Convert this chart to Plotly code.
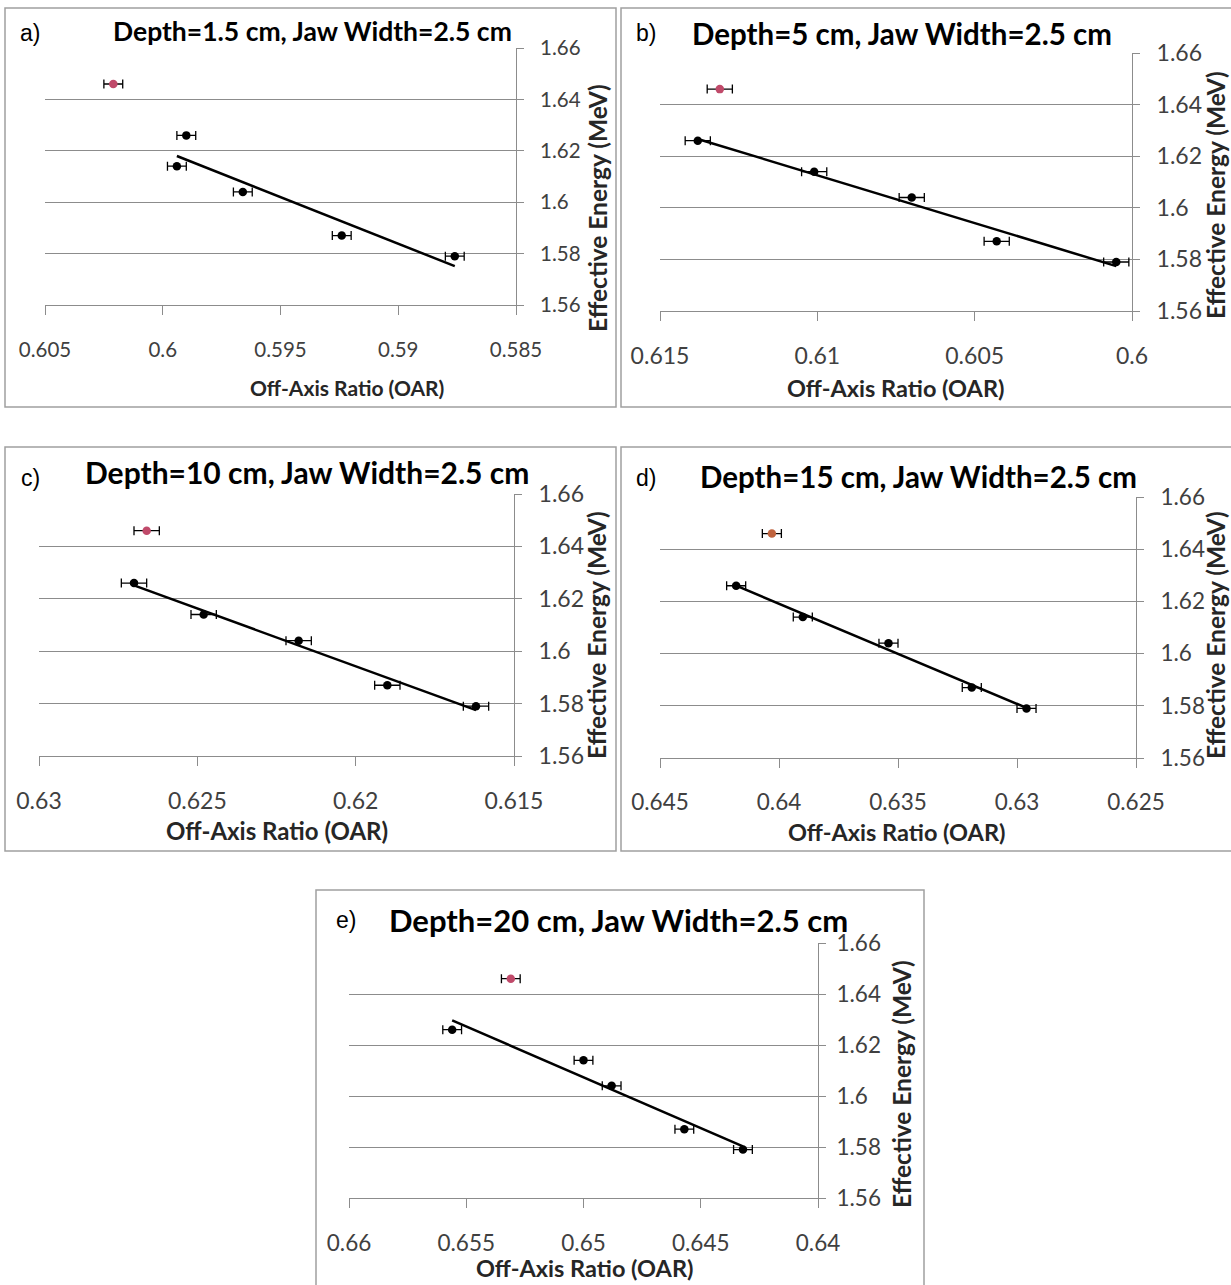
import numpy as np
import plotly.graph_objects as go

W, H = 1231, 1285

# Effective energy (MeV) of the six measurements; the first one is the outlier
ENERGY = [1.646, 1.626, 1.614, 1.604, 1.587, 1.579]
OAR_ERR = 0.0004

# Off-axis ratio of the six measurements at each depth
OAR_A = [0.6021, 0.5990, 0.5994, 0.5966, 0.5924, 0.5876]
OAR_B = [0.6131, 0.6138, 0.6101, 0.6070, 0.6043, 0.6005]
OAR_C = [0.6266, 0.6270, 0.6248, 0.6218, 0.6190, 0.6162]
OAR_D = [0.6403, 0.6418, 0.6390, 0.6354, 0.6319, 0.6296]
OAR_E = [0.6531, 0.6556, 0.6500, 0.6488, 0.6457, 0.6432]

XTICKS_A = [0.605, 0.6, 0.595, 0.59, 0.585]
XTICKS_B = [0.615, 0.61, 0.605, 0.6]
XTICKS_C = [0.63, 0.625, 0.62, 0.615]
XTICKS_D = [0.645, 0.64, 0.635, 0.63, 0.625]
XTICKS_E = [0.66, 0.655, 0.65, 0.645, 0.64]
YTICKS = [1.56, 1.58, 1.6, 1.62, 1.64, 1.66]

LETTERS = ["a)", "b)", "c)", "d)", "e)"]
TITLES = [
    "Depth=1.5 cm, Jaw Width=2.5 cm",
    "Depth=5 cm, Jaw Width=2.5 cm",
    "Depth=10 cm, Jaw Width=2.5 cm",
    "Depth=15 cm, Jaw Width=2.5 cm",
    "Depth=20 cm, Jaw Width=2.5 cm",
]
X_TITLE = "Off-Axis Ratio (OAR)"
Y_TITLE = "Effective Energy (MeV)"
OUTLIER_COLORS = ["#c04a6a", "#c04a6a", "#c04a6a", "#c0643f", "#c04a6a"]

OARS = [OAR_A, OAR_B, OAR_C, OAR_D, OAR_E]
XTICKS = [XTICKS_A, XTICKS_B, XTICKS_C, XTICKS_D, XTICKS_E]

# Layout in pixels -------------------------------------------------------
# plot area: left, right, top, bottom
PLOT = [(45, 516, 48, 305), (660, 1132, 53, 311), (39, 514, 494, 756),
        (660, 1136, 497, 758), (349, 818, 943, 1198)]
# panel frame: left, right, top, bottom
FRAME = [(5, 616, 8, 407), (621, 1236, 8, 407), (5, 616, 447, 851),
         (621, 1236, 447, 851), (316, 924, 890, 1295)]
LETTER_POS = [(30, 33), (646, 33), (30, 478), (646, 478), (346, 920)]
TITLE_POS = [(312, 31), (902, 33), (307, 472), (918, 476), (618, 920)]
XTITLE_POS = [(347, 387), (895, 388), (277, 830), (896, 832), (584, 1268)]
YTITLE_POS = [(598, 208), (1215, 195), (596, 635), (1215, 635), (901, 1084)]

# font sizes and label offsets per panel
TITLE_SIZE = [26.5, 29.5, 30, 29.5, 31]
XTITLE_SIZE = [21, 23.5, 24, 23.5, 23.5]
TICK_SIZE = [20.5, 23, 23, 22.5, 22.5]
YTITLE_SIZE = 24.5
XLABEL_STANDOFF = [17, 15, 15, 15, 16]
YLABEL_STANDOFF = [12, 12, 12, 12, 6]


def px(x):
    return x / W


def py(y):
    return 1 - y / H


fig = go.Figure()
annotations = []
shapes = []
layout = {}

for i in range(5):
    n = "" if i == 0 else str(i + 1)
    xa, ya = "x" + n, "y" + n
    oar = OARS[i]
    ticks = XTICKS[i]
    left, right, top, bottom = PLOT[i]

    # outlier point
    fig.add_trace(go.Scatter(
        x=[oar[0]], y=[ENERGY[0]], mode="markers", xaxis=xa, yaxis=ya,
        marker=dict(size=8.5, color=OUTLIER_COLORS[i]),
        error_x=dict(type="constant", value=OAR_ERR, color="black",
                     thickness=1.3, width=4.5),
        showlegend=False, hoverinfo="x+y"))
    # measurement points
    fig.add_trace(go.Scatter(
        x=oar[1:], y=ENERGY[1:], mode="markers", xaxis=xa, yaxis=ya,
        marker=dict(size=8.5, color="black"),
        error_x=dict(type="constant", value=OAR_ERR, color="black",
                     thickness=1.3, width=4.5),
        showlegend=False, hoverinfo="x+y"))
    # linear trendline through the measurement points
    slope, icpt = np.polyfit(oar[1:], ENERGY[1:], 1)
    xs = np.array([max(oar[1:]), min(oar[1:])])
    fig.add_trace(go.Scatter(
        x=xs, y=slope * xs + icpt, mode="lines", xaxis=xa, yaxis=ya,
        line=dict(color="black", width=2.5),
        showlegend=False, hoverinfo="skip"))

    tickfont = dict(family="Lato", size=TICK_SIZE[i], color="#404040")
    layout["xaxis" + n] = dict(
        domain=[px(left), px(right)], anchor=ya, automargin=False,
        range=[ticks[0], ticks[0] - 0.005 * (len(ticks) - 1)],
        tickvals=ticks, ticktext=[f"{t:g}" for t in ticks],
        showgrid=False, zeroline=False,
        showline=True, linecolor="#8c8c8c", linewidth=1,
        ticks="outside", ticklen=9, tickcolor="#8c8c8c", tickwidth=1,
        ticklabelstandoff=XLABEL_STANDOFF[i], tickfont=tickfont,
    )
    layout["yaxis" + n] = dict(
        domain=[py(bottom), py(top)], anchor=xa, side="right",
        automargin=False,
        range=[1.56, 1.66], tickvals=YTICKS,
        ticktext=[f"{t:g}" for t in YTICKS],
        showgrid=True, gridcolor="#8c8c8c", gridwidth=1, zeroline=False,
        showline=True, linecolor="#8c8c8c", linewidth=1,
        ticks="outside", ticklen=7, tickcolor="#8c8c8c", tickwidth=1,
        ticklabelstandoff=YLABEL_STANDOFF[i], tickfont=tickfont,
    )

    fl, fr, ft, fb = FRAME[i]
    shapes.append(dict(type="rect", xref="paper", yref="paper",
                       x0=px(fl), x1=px(fr), y0=py(fb), y1=py(ft),
                       line=dict(color="#a0a0a0", width=1.5), layer="below"))

    lx, ly = LETTER_POS[i]
    annotations.append(dict(text=LETTERS[i], x=px(lx), y=py(ly),
                            xref="paper", yref="paper", showarrow=False,
                            xanchor="center", yanchor="middle",
                            font=dict(family="Liberation Sans", size=23,
                                      color="black")))
    tx, ty = TITLE_POS[i]
    annotations.append(dict(text="<b>" + TITLES[i] + "</b>", x=px(tx),
                            y=py(ty), xref="paper", yref="paper",
                            showarrow=False, xanchor="center",
                            yanchor="middle",
                            font=dict(family="Lato", size=TITLE_SIZE[i],
                                      color="black")))
    xx, xy = XTITLE_POS[i]
    annotations.append(dict(text="<b>" + X_TITLE + "</b>", x=px(xx),
                            y=py(xy), xref="paper", yref="paper",
                            showarrow=False, xanchor="center",
                            yanchor="middle",
                            font=dict(family="Lato", size=XTITLE_SIZE[i],
                                      color="#262626")))
    yx, yy = YTITLE_POS[i]
    annotations.append(dict(text="<b>" + Y_TITLE + "</b>", x=px(yx),
                            y=py(yy), xref="paper", yref="paper",
                            showarrow=False, xanchor="center",
                            yanchor="middle", textangle=-90,
                            font=dict(family="Lato", size=YTITLE_SIZE,
                                      color="#262626")))

fig.update_layout(
    template="none",
    width=W, height=H, margin=dict(l=0, r=0, t=0, b=0, autoexpand=False),
    paper_bgcolor="white", plot_bgcolor="white",
    annotations=annotations, shapes=shapes, **layout)

fig.write_html("out.html")
